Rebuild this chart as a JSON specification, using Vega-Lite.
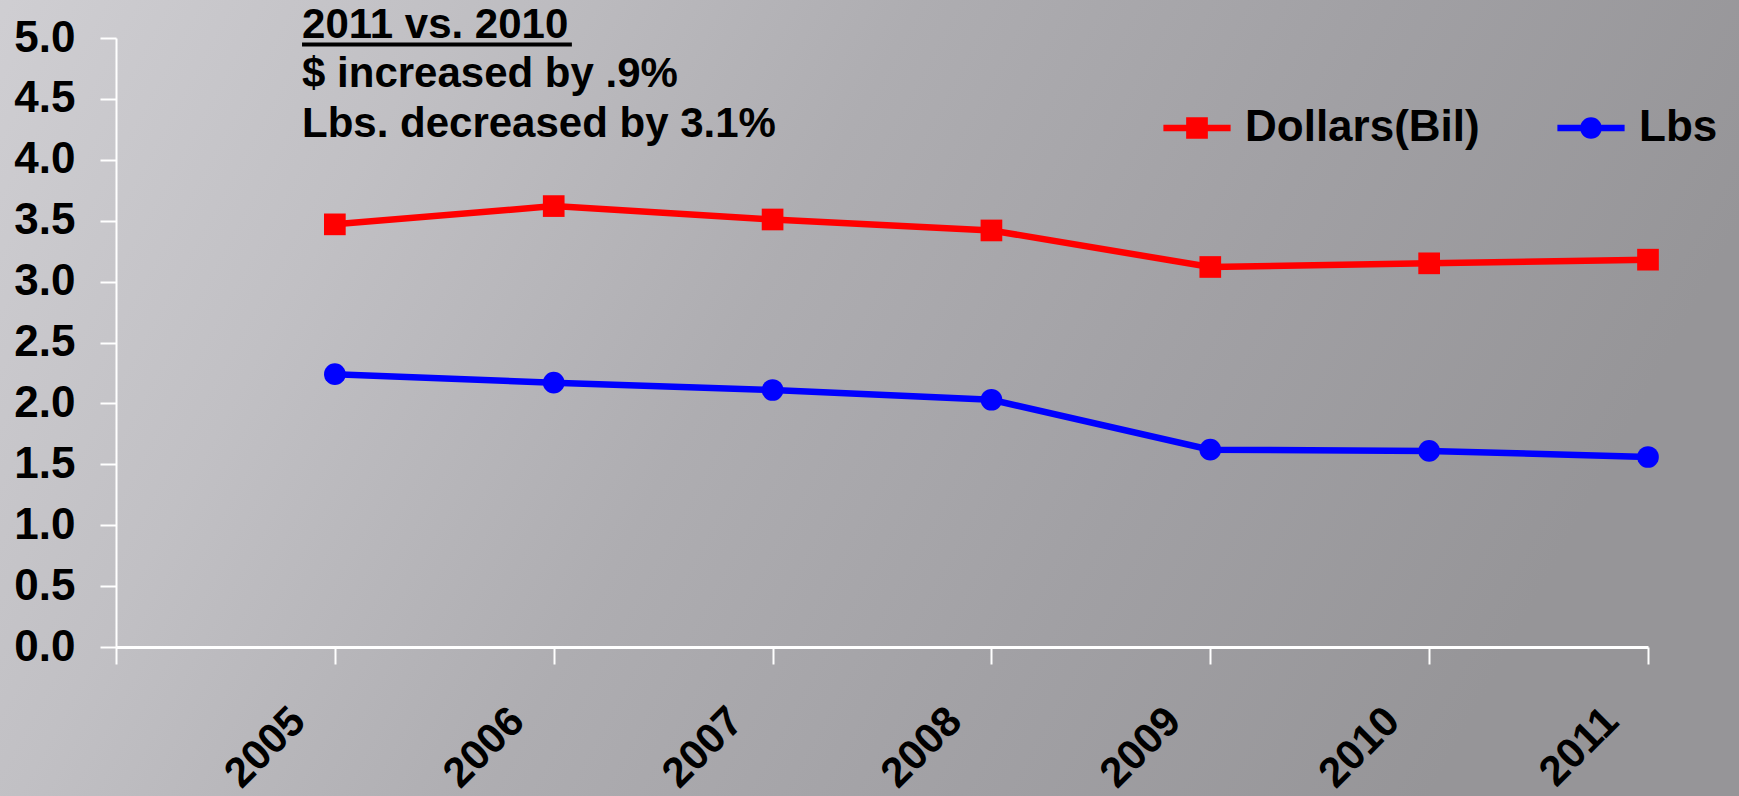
{
  "$schema": "https://vega.github.io/schema/vega-lite/v6.json",
  "width": 1532,
  "height": 609,
  "autosize": {"type": "none"},
  "padding": {"left": 116, "top": 38, "right": 91, "bottom": 149},
  "background": "#b4b3b7",
  "config": {
    "view": {"stroke": null},
    "font": "Liberation Sans",
    "axisX": {
      "grid": false,
      "domainColor": "white", "domainWidth": 3,
      "tickColor": "white", "tickWidth": 2, "tickSize": 17,
      "labelAngle": -45, "labelAlign": "right", "labelBaseline": "middle",
      "labelPadding": 50, "labelOffset": -37,
      "labelFont": "Liberation Sans", "labelFontSize": 42, "labelFontWeight": "bold", "labelColor": "black",
      "labelFlush": false, "labelOverlap": false
    },
    "axisY": {
      "grid": false,
      "domainColor": "white", "domainWidth": 2,
      "tickColor": "white", "tickWidth": 2, "tickSize": 16,
      "labelPadding": 25,
      "labelFont": "Liberation Sans", "labelFontSize": 44, "labelFontWeight": "bold", "labelColor": "black",
      "labelFlush": false, "labelOverlap": false
    },
    "legend": {
      "title": null,
      "orient": "none",
      "legendX": 1059,
      "legendY": 68,
      "direction": "horizontal",
      "padding": 0,
      "labelFont": "Liberation Sans",
      "labelFontSize": 44,
      "labelFontWeight": "bold",
      "labelColor": "black",
      "labelLimit": 0,
      "symbolSize": 470,
      "symbolStrokeWidth": 0,
      "symbolOpacity": 1,
      "labelOffset": 26,
      "columnPadding": 77
    }
  },
  "resolve": {"legend": {"color": "independent", "shape": "independent"}},
  "datasets": {
    "sales": [
      {"year": 2005, "series": "Dollars(Bil)", "value": 3.47},
      {"year": 2006, "series": "Dollars(Bil)", "value": 3.62},
      {"year": 2007, "series": "Dollars(Bil)", "value": 3.51},
      {"year": 2008, "series": "Dollars(Bil)", "value": 3.42},
      {"year": 2009, "series": "Dollars(Bil)", "value": 3.12},
      {"year": 2010, "series": "Dollars(Bil)", "value": 3.15},
      {"year": 2011, "series": "Dollars(Bil)", "value": 3.18},
      {"year": 2005, "series": "Lbs", "value": 2.24},
      {"year": 2006, "series": "Lbs", "value": 2.17},
      {"year": 2007, "series": "Lbs", "value": 2.11},
      {"year": 2008, "series": "Lbs", "value": 2.03},
      {"year": 2009, "series": "Lbs", "value": 1.62},
      {"year": 2010, "series": "Lbs", "value": 1.61},
      {"year": 2011, "series": "Lbs", "value": 1.56}
    ]
  },
  "layer": [
    {
      "data": {"values": [{}]},
      "mark": {
        "type": "rect",
        "color": {
          "gradient": "linear",
          "x1": 0, "y1": 0, "x2": 1, "y2": 0.25,
          "stops": [
            {"offset": 0, "color": "#d0cfd3"},
            {"offset": 0.25, "color": "#c1c0c4"},
            {"offset": 0.5, "color": "#aeadb1"},
            {"offset": 0.75, "color": "#a1a0a4"},
            {"offset": 1, "color": "#969598"}
          ]
        }
      },
      "encoding": {
        "x": {"datum": 2003.4, "type": "quantitative", "scale": {"domain": [2004, 2011], "nice": false, "zero": false}, "axis": {"title": null, "zindex": 1}},
        "x2": {"datum": 2011.5},
        "y": {"datum": 5.4, "type": "quantitative", "scale": {"domain": [0, 5], "nice": false, "zero": false}, "axis": {"title": null, "zindex": 1}},
        "y2": {"datum": -1.3}
      }
    },
    {
      "data": {"name": "sales"},
      "mark": {"type": "line", "strokeWidth": 6.5},
      "encoding": {
        "x": {
          "field": "year", "type": "quantitative",
          "scale": {"domain": [2004, 2011], "nice": false, "zero": false},
          "axis": {
            "title": null,
            "zindex": 1,
            "values": [2004, 2005, 2006, 2007, 2008, 2009, 2010, 2011],
            "format": "d",
            "labelExpr": "datum.value === 2004 ? '' : datum.label"
          }
        },
        "y": {
          "field": "value", "type": "quantitative",
          "scale": {"domain": [0, 5], "nice": false, "zero": false},
          "axis": {
            "title": null,
            "zindex": 1,
            "values": [0, 0.5, 1, 1.5, 2, 2.5, 3, 3.5, 4, 4.5, 5],
            "format": ".1f"
          }
        },
        "color": {
          "field": "series", "type": "nominal",
          "scale": {"domain": ["Dollars(Bil)", "Lbs"], "range": ["#ff0000", "#0000ff"]},
          "legend": null
        }
      }
    },
    {
      "data": {"name": "sales"},
      "transform": [{"filter": "datum.series === 'Dollars(Bil)'"}],
      "mark": {"type": "point", "shape": "square", "filled": true, "size": 470, "opacity": 1},
      "encoding": {
        "x": {"field": "year", "type": "quantitative", "scale": {"domain": [2004, 2011], "nice": false, "zero": false}, "axis": {"title": null, "zindex": 1}},
        "y": {"field": "value", "type": "quantitative", "scale": {"domain": [0, 5], "nice": false, "zero": false}, "axis": {"title": null, "zindex": 1}},
        "color": {"field": "series", "type": "nominal", "scale": {"domain": ["Dollars(Bil)", "Lbs"], "range": ["#ff0000", "#0000ff"]}, "legend": null}
      }
    },
    {
      "data": {"name": "sales"},
      "transform": [{"filter": "datum.series === 'Lbs'"}],
      "mark": {"type": "point", "shape": "circle", "filled": true, "size": 470, "opacity": 1},
      "encoding": {
        "x": {"field": "year", "type": "quantitative", "scale": {"domain": [2004, 2011], "nice": false, "zero": false}, "axis": {"title": null, "zindex": 1}},
        "y": {"field": "value", "type": "quantitative", "scale": {"domain": [0, 5], "nice": false, "zero": false}, "axis": {"title": null, "zindex": 1}},
        "color": {"field": "series", "type": "nominal", "scale": {"domain": ["Dollars(Bil)", "Lbs"], "range": ["#ff0000", "#0000ff"]}, "legend": null}
      }
    },
    {
      "data": {"name": "sales"},
      "transform": [{"filter": "false"}],
      "mark": {"type": "point", "filled": true, "size": 470, "opacity": 1},
      "encoding": {
        "x": {"field": "year", "type": "quantitative", "scale": {"domain": [2004, 2011], "nice": false, "zero": false}, "axis": {"title": null, "zindex": 1}},
        "y": {"field": "value", "type": "quantitative", "scale": {"domain": [0, 5], "nice": false, "zero": false}, "axis": {"title": null, "zindex": 1}},
        "color": {"field": "series", "type": "nominal", "scale": {"domain": ["Dollars(Bil)", "Lbs"], "range": ["#ff0000", "#0000ff"]}, "legend": {"title": null}},
        "shape": {
          "field": "series", "type": "nominal",
          "scale": {
            "domain": ["Dollars(Bil)", "Lbs"],
            "range": [
              "M-3.1,-0.3H3.1V0.3H-3.1Z M-1,-1H1V1H-1Z",
              "M-3.1,-0.3H3.1V0.3H-3.1Z M-1,0A1,1 0 1,1 1,0A1,1 0 1,1 -1,0Z"
            ]
          },
          "legend": {"title": null}
        }
      }
    },
    {
      "data": {"values": [{}]},
      "mark": {"type": "text", "align": "left", "baseline": "alphabetic", "fontSize": 42, "fontWeight": "bold", "font": "Liberation Sans", "color": "black", "lineHeight": 49.5},
      "encoding": {
        "x": {"datum": 2004.85, "type": "quantitative", "axis": {"title": null, "zindex": 1}},
        "y": {"datum": 5.004, "type": "quantitative", "axis": {"title": null, "zindex": 1}},
        "text": {"value": ["2011 vs. 2010", "$ increased by .9%", "Lbs. decreased by 3.1%"]}
      }
    },
    {
      "data": {"values": [{}]},
      "mark": {"type": "rule", "color": "black", "strokeWidth": 4},
      "encoding": {
        "x": {"datum": 2004.85, "type": "quantitative", "axis": {"title": null, "zindex": 1}},
        "x2": {"datum": 2006.083},
        "y": {"datum": 4.947, "type": "quantitative", "axis": {"title": null, "zindex": 1}}
      }
    }
  ]
}
